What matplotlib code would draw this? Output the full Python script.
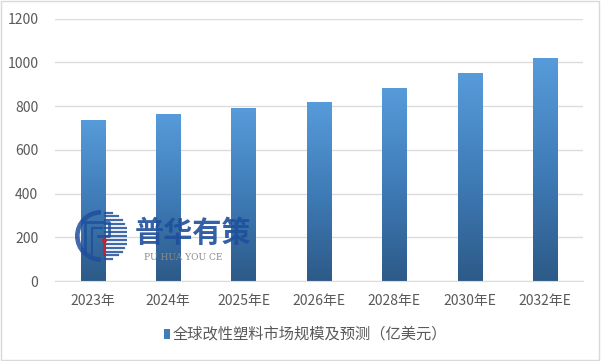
import matplotlib
matplotlib.use('Agg')
import matplotlib.pyplot as plt
import numpy as np
from matplotlib.colors import LinearSegmentedColormap
from matplotlib.patches import Rectangle, Wedge

plt.rcParams['font.family'] = ['Noto Sans CJK SC', 'DejaVu Sans']

categories = ['2023年', '2024年', '2025年E', '2026年E', '2028年E', '2030年E', '2032年E']
values = [735, 762, 789, 817, 880, 949, 1017]
series_name = '全球改性塑料市场规模及预测（亿美元）'

fig = plt.figure(figsize=(6.01, 3.61), dpi=100)
ax = fig.add_axes([0.0915, 0.2216, 0.8785, 0.727])

# gradient for bars: light blue at top, dark blue at bottom
cmap = LinearSegmentedColormap.from_list('bar', ['#2d5a88', '#3f7cb8', '#579bda'])
grad = np.linspace(0, 1, 256).reshape(-1, 1)
width = 0.32
x = np.arange(len(categories))
for xi, v in zip(x, values):
    ax.imshow(grad, extent=[xi - width / 2, xi + width / 2, 0, v], origin='lower',
              cmap=cmap, aspect='auto', zorder=2)

ax.set_xlim(-0.5, len(categories) - 0.5)
ax.set_ylim(0, 1200)
ax.set_yticks(range(0, 1201, 200))
ax.set_xticks(x)
ax.set_xticklabels(categories)
ax.grid(axis='y', color='#dcdcdc', linewidth=1, zorder=0)
for s in ['top', 'right', 'left']:
    ax.spines[s].set_visible(False)
ax.spines['bottom'].set_color('#dcdcdc')
ax.tick_params(axis='both', length=0, labelsize=10, colors='#595959')
ax.tick_params(axis='x', pad=9)
ax.tick_params(axis='y', pad=12)

# legend
fig.patches.append(Rectangle((0.2725, 0.06), 0.011, 0.03, transform=fig.transFigure,
                             facecolor='#3f7cb8', edgecolor='none'))
fig.text(0.288, 0.075, series_name, fontsize=11, color='#595959', va='center')

# watermark logo
wcol = '#1f4f9c'
cx, cy, r = 101 / 601, 1 - 236 / 361, 26
ax_logo = fig.add_axes([cx - r / 601, cy - r / 361, 2 * r / 601, 2 * r / 361])
ax_logo.set_xlim(-1, 1)
ax_logo.set_ylim(-1, 1)
ax_logo.axis('off')
for yy in np.linspace(-0.9, 0.9, 13):
    half = np.sqrt(max(0.0, 1 - yy ** 2))
    ax_logo.plot([0.15, half], [yy, yy], color=wcol, lw=1.6, alpha=0.85)
ax_logo.add_patch(Wedge((0, 0), 1.0, 90, 270, width=0.18, facecolor=wcol, alpha=0.85))
ax_logo.plot([-0.6, -0.6, 0.3, 0.3, -0.1], [-0.7, 0.55, 0.55, 0.0, 0.0], color=wcol, lw=2, alpha=0.85)
ax_logo.plot([-0.35, -0.35, 0.05], [-0.7, 0.3, 0.3], color=wcol, lw=1.5, alpha=0.85)
ax_logo.plot([0.1, 0.1], [-0.65, -0.3], color='#c0262d', lw=2.2)
ax_logo.plot([0.1], [-0.15], 'o', color='#c0262d', ms=2.5)

fig.text(135 / 601, 1 - 233 / 361, '普华有策', fontsize=21, fontweight='bold',
         color=wcol, alpha=0.9, va='center', ha='left')
fig.text(183 / 601, 1 - 257 / 361, 'PU HUA YOU CE', fontsize=6.5, family='DejaVu Serif',
         color='#8a8a8a', va='center', ha='center')

# light frame around the figure
fig.patches.append(Rectangle((0.002, 0.003), 0.995, 0.994, transform=fig.transFigure,
                             fill=False, edgecolor='#d9d9d9', linewidth=1))

fig.savefig('out.png', dpi=100)
